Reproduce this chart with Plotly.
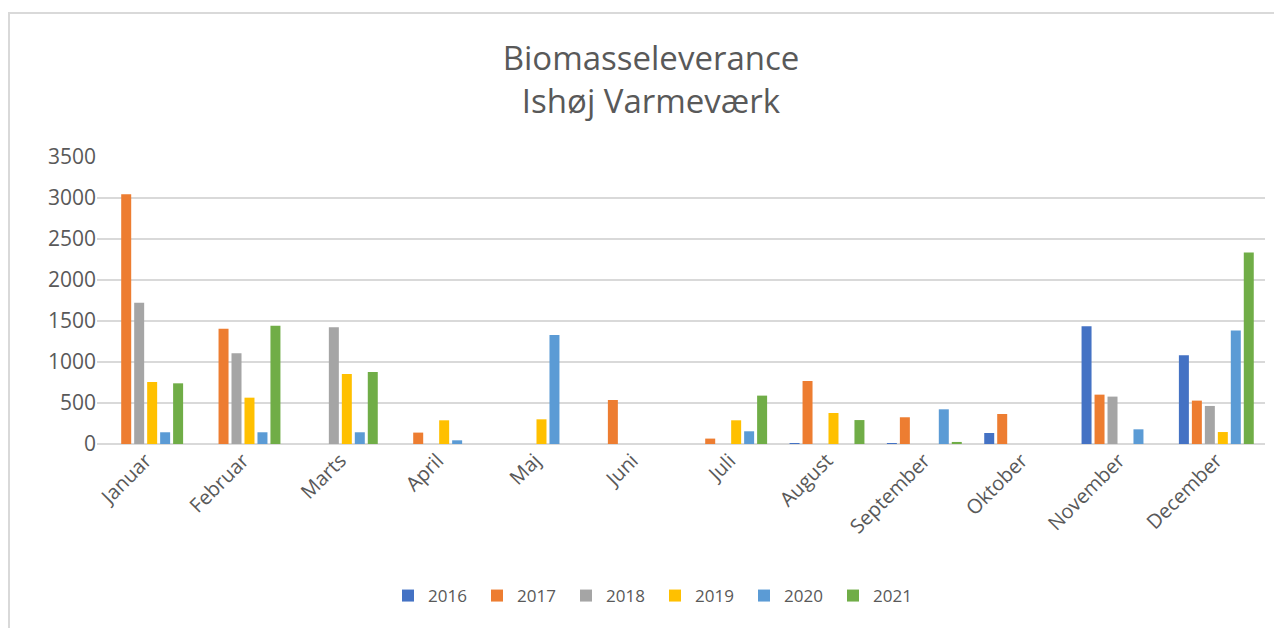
import plotly.graph_objects as go

months = ["Januar", "Februar", "Marts", "April", "Maj", "Juni", "Juli",
          "August", "September", "Oktober", "November", "December"]
years = ["2016", "2017", "2018", "2019", "2020", "2021"]
v2016 = [0, 0, 0, 0, 0, 0, 0, 10, 5, 134, 1435, 1082]
v2017 = [3045, 1406, 0, 139, 0, 537, 66, 768, 326, 366, 602, 529]
v2018 = [1723, 1106, 1423, 0, 0, 0, 0, 0, 0, 0, 578, 464]
v2019 = [756, 565, 854, 289, 301, 0, 289, 378, 0, 0, 0, 146]
v2020 = [143, 143, 143, 45, 1330, 0, 155, 0, 423, 0, 179, 1383]
v2021 = [740, 1443, 878, 0, 0, 0, 590, 292, 25, 0, 0, 2334]
series = [v2016, v2017, v2018, v2019, v2020, v2021]
colors = ["#4472C4", "#ED7D31", "#A5A5A5", "#FFC000", "#5B9BD5", "#70AD47"]
y_ticks = [0, 500, 1000, 1500, 2000, 2500, 3000, 3500]

fig = go.Figure()
for name, vals, col in zip(years, series, colors):
    fig.add_trace(go.Bar(name=name, x=months, y=vals, marker_color=col,
                         marker_line_width=0))

OFF = 8  # page body margin
W, H = 1282, 628
L = 97 - OFF
T = 157 - OFF
R = W - (1265 - OFF)
B = H - (444 - OFF)
pw, ph = W - L - R, H - T - B


def px_x(p):
    return (p - OFF - L) / pw


def px_y(p):
    return (H - B - (p - OFF)) / ph


fig.update_layout(
    width=W, height=H,
    margin=dict(l=L, r=R, t=T, b=B),
    paper_bgcolor="white", plot_bgcolor="white",
    font=dict(family="Open Sans", color="#595959"),
    barmode="group", bargap=0.2, bargroupgap=0.23,
    title=dict(text="Biomasseleverance<br>Ishøj Varmeværk",
               x=(651 - OFF) / W, xref="container", xanchor="center",
               y=1 - (70 - OFF) / H, yref="container", yanchor="middle",
               font=dict(size=33, color="#595959", family="Open Sans")),
    legend=dict(orientation="h", x=(655 - OFF) / W, xref="container",
                xanchor="center",
                y=1 - (596 - OFF) / H, yref="container", yanchor="middle",
                font=dict(size=17, color="#595959"),
                entrywidth=44, entrywidthmode="pixels", itemwidth=30),
    xaxis=dict(tickangle=-45, tickfont=dict(size=20, color="#595959"),
               showline=False, showgrid=False, ticks="", automargin=False),
    yaxis=dict(range=[0, 3500], tickvals=y_ticks,
               tickfont=dict(size=21, color="#595959"),
               gridcolor="#D9D9D9", gridwidth=1.5, showline=False,
               zeroline=True, zerolinecolor="#D9D9D9", zerolinewidth=1.5,
               ticks="", ticklen=0, automargin=False),
    shapes=[dict(type="rect", xref="paper", yref="paper",
                 x0=px_x(9), x1=px_x(W + 20),
                 y0=px_y(H + 20), y1=px_y(13),
                 line=dict(color="#D9D9D9", width=2),
                 fillcolor="rgba(0,0,0,0)", layer="below")],
)

fig.write_html("out.html")
